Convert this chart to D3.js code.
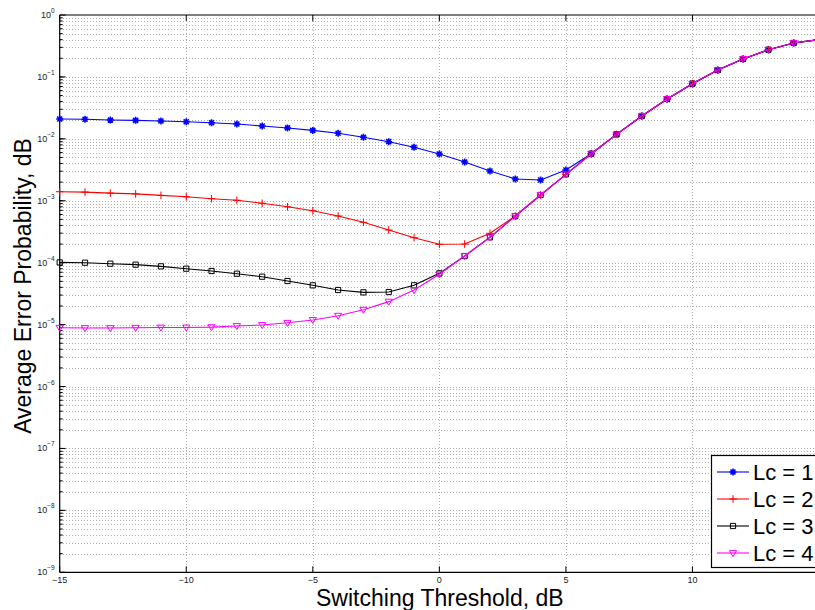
<!DOCTYPE html>
<html>
<head>
<meta charset="utf-8">
<script src="https://cdn.jsdelivr.net/npm/d3@7"></script>
<style>
  html, body { margin: 0; padding: 0; background: #fff; }
  svg { display: block; font-family: "Liberation Sans", Arial, Helvetica, sans-serif; }
</style>
</head>
<body>
<svg id="chart" width="815" height="610"></svg>
<script>
// Switching threshold (dB) for every sample point
const thresholds = [-15, -14, -13, -12, -11, -10, -9, -8, -7, -6, -5, -4, -3, -2, -1,
                    0, 1, 2, 3, 4, 5, 6, 7, 8, 9, 10, 11, 12, 13, 14, 15];

// Average error probability per Lc value
const lc1 = [0.0209, 0.0207, 0.0201, 0.0199, 0.0194, 0.0189, 0.0182, 0.0174, 0.0161, 0.0150,
             0.0137, 0.0123, 0.0106, 0.0090, 0.0073, 0.0057, 0.00423, 0.00303, 0.00225, 0.00216,
             0.00314, 0.00575, 0.0118, 0.0234, 0.0440, 0.0778, 0.129, 0.195, 0.275, 0.353, 0.40];
const lc2 = [0.00140, 0.00138, 0.00133, 0.00129, 0.00122, 0.00116, 0.00108, 0.00102, 0.00091, 0.00080,
             0.00069, 0.000567, 0.000449, 0.000337, 0.000253, 0.000198, 0.000200, 0.000298, 0.000567, 0.00124,
             0.00267, 0.00575, 0.0118, 0.0234, 0.0440, 0.0778, 0.129, 0.195, 0.275, 0.353, 0.40];
const lc3 = [1.01e-4, 1.00e-4, 9.64e-5, 9.29e-5, 8.73e-5, 8.00e-5, 7.34e-5, 6.64e-5, 5.94e-5, 5.06e-5,
             4.31e-5, 3.62e-5, 3.32e-5, 3.36e-5, 4.31e-5, 6.73e-5, 1.28e-4, 2.57e-4, 5.67e-4, 1.24e-3,
             2.67e-3, 0.00575, 0.0118, 0.0234, 0.0440, 0.0778, 0.129, 0.195, 0.275, 0.353, 0.40];
const lc4 = [8.9e-6, 8.8e-6, 8.8e-6, 8.9e-6, 9.0e-6, 9.0e-6, 9.1e-6, 9.5e-6, 9.86e-6, 1.07e-5,
             1.19e-5, 1.39e-5, 1.74e-5, 2.35e-5, 3.62e-5, 6.49e-5, 1.28e-4, 2.57e-4, 5.67e-4, 1.24e-3,
             2.67e-3, 0.00575, 0.0118, 0.0234, 0.0440, 0.0778, 0.129, 0.195, 0.275, 0.353, 0.40];

const seriesNames = ["Lc = 1", "Lc = 2", "Lc = 3", "Lc = 4"];
const seriesColors = ["#0000ff", "#ff0000", "#000000", "#ff00ff"];
const seriesMarkers = ["star", "plus", "square", "triangleDown"];

const xTicks = [-15, -10, -5, 0, 5, 10, 15];
const yExponents = [0, -1, -2, -3, -4, -5, -6, -7, -8, -9];

const xLabel = "Switching Threshold, dB";
const yLabel = "Average Error Probability, dB";

// ---- layout ----
const W = 815;
const svg = d3.select("#chart");
const plot = { left: 59.7, right: 819, top: 15, bottom: 572.3 };

const x = d3.scaleLinear().domain([-15, 15]).range([plot.left, plot.right]);
const y = d3.scaleLog().domain([1e-9, 1]).range([plot.bottom, plot.top]);

// ---- grid ----
const grid = svg.append("g").attr("stroke", "#b0b0b0").attr("stroke-width", 1)
  .attr("stroke-dasharray", "1,2").attr("shape-rendering", "crispEdges");

const minorVals = [];
for (let e = -9; e < 0; e++) {
  for (let m = 1; m <= 9; m++) {
    const v = m * Math.pow(10, e);
    if (v > 1e-9 && v < 1) minorVals.push(v);
  }
}
grid.selectAll("line.hy").data(minorVals).join("line")
  .attr("class", "hy")
  .attr("x1", plot.left).attr("x2", plot.right)
  .attr("y1", d => Math.round(y(d)) + 0.5).attr("y2", d => Math.round(y(d)) + 0.5);

grid.selectAll("line.vx").data(xTicks.filter(t => t > -15 && t < 15)).join("line")
  .attr("class", "vx")
  .attr("y1", plot.top).attr("y2", plot.bottom)
  .attr("x1", d => Math.round(x(d)) + 0.5).attr("x2", d => Math.round(x(d)) + 0.5);

// ---- axes ----
const axes = svg.append("g").attr("stroke", "#000").attr("fill", "none");
axes.append("line").attr("x1", plot.left).attr("x2", plot.left)
  .attr("y1", plot.top).attr("y2", plot.bottom).attr("stroke-width", 1.2);
axes.append("line").attr("x1", plot.left).attr("x2", plot.right)
  .attr("y1", plot.bottom).attr("y2", plot.bottom).attr("stroke-width", 1.2);
axes.append("line").attr("x1", plot.left).attr("x2", plot.right)
  .attr("y1", plot.top).attr("y2", plot.top).attr("stroke-width", 1.2);

// x ticks on bottom and top, pointing inward
xTicks.forEach(t => {
  const px = x(t);
  axes.append("line").attr("x1", px).attr("x2", px)
    .attr("y1", plot.bottom).attr("y2", plot.bottom - 6).attr("stroke-width", 1);
  axes.append("line").attr("x1", px).attr("x2", px)
    .attr("y1", plot.top).attr("y2", plot.top + 6).attr("stroke-width", 1);
});

// y major and minor ticks
yExponents.forEach(e => {
  const py = y(Math.pow(10, e));
  axes.append("line").attr("x1", plot.left).attr("x2", plot.left + 6)
    .attr("y1", py).attr("y2", py).attr("stroke-width", 1);
});
minorVals.forEach(v => {
  const py = y(v);
  axes.append("line").attr("x1", plot.left).attr("x2", plot.left + 3)
    .attr("y1", py).attr("y2", py).attr("stroke-width", 1);
});

// tick labels (the last one falls past the right edge of the figure)
const tickFill = "#222";
svg.append("g").selectAll("text").data(xTicks.filter(t => x(t) < W)).join("text")
  .attr("x", d => x(d)).attr("y", plot.bottom + 11)
  .attr("text-anchor", "middle").attr("font-size", 9).attr("fill", tickFill)
  .text(d => d < 0 ? "\u2212" + Math.abs(d) : String(d));

const yLab = svg.append("g").selectAll("text").data(yExponents).join("text")
  .attr("x", plot.left - 5).attr("y", d => y(Math.pow(10, d)) + 3)
  .attr("text-anchor", "end").attr("font-size", 9).attr("fill", tickFill);
yLab.append("tspan").text("10");
yLab.append("tspan").attr("font-size", 6.5).attr("dy", -5)
  .text(d => d < 0 ? "\u2212" + Math.abs(d) : String(d));

// axis titles
svg.append("text").attr("x", (plot.left + 819) / 2 + 0.5).attr("y", 606)
  .attr("text-anchor", "middle").attr("font-size", 23).attr("fill", "#000")
  .text(xLabel);
svg.append("text")
  .attr("transform", `translate(31,${286}) rotate(-90)`)
  .attr("text-anchor", "middle").attr("font-size", 23).attr("fill", "#000")
  .text(yLabel);

// ---- series ----
const allSeries = [lc1, lc2, lc3, lc4];

function markerPath(kind) {
  switch (kind) {
    case "star":
      return "M-3.5,0H3.5M0,-3.5V3.5M-2.5,-2.5L2.5,2.5M-2.5,2.5L2.5,-2.5";
    case "plus":
      return "M-3.8,0H3.8M0,-3.8V3.8";
    case "square":
      return "M-2.6,-2.6H2.6V2.6H-2.6Z";
    case "triangleDown":
      return "M-3.6,-2.4H3.6L0,3.6Z";
  }
}

const line = d3.line().x((d, i) => x(thresholds[i])).y(d => y(d));

const seriesG = svg.append("g");
allSeries.forEach((vals, si) => {
  const g = seriesG.append("g");
  g.append("path").datum(vals)
    .attr("fill", "none").attr("stroke", seriesColors[si]).attr("stroke-width", 1.1)
    .attr("d", line);
  g.selectAll("path.m").data(vals).join("path")
    .attr("class", "m")
    .attr("transform", (d, i) => `translate(${x(thresholds[i])},${y(d)})`)
    .attr("d", markerPath(seriesMarkers[si]))
    .attr("fill", "none").attr("stroke", seriesColors[si])
    .attr("stroke-width", seriesMarkers[si] === "star" ? 1.6 : 1);
});

// ---- legend ----
const legend = svg.append("g").attr("transform", "translate(711,455)");
legend.append("rect").attr("x", 0.5).attr("y", 0.5).attr("width", 115).attr("height", 112)
  .attr("fill", "#fff").attr("stroke", "#000").attr("stroke-width", 1.2);
seriesNames.forEach((name, i) => {
  const cy = 17 + i * 27;
  const row = legend.append("g").attr("transform", `translate(0,${cy})`);
  row.append("line").attr("x1", 6).attr("x2", 38).attr("y1", 0).attr("y2", 0)
    .attr("stroke", seriesColors[i]).attr("stroke-width", 1.1);
  row.append("path").attr("transform", "translate(22,0)")
    .attr("d", markerPath(seriesMarkers[i]))
    .attr("fill", "none").attr("stroke", seriesColors[i])
    .attr("stroke-width", seriesMarkers[i] === "star" ? 1.6 : 1);
  row.append("text").attr("x", 42).attr("y", 8)
    .attr("font-size", 22).attr("fill", "#000").text(name);
});
</script>
</body>
</html>
